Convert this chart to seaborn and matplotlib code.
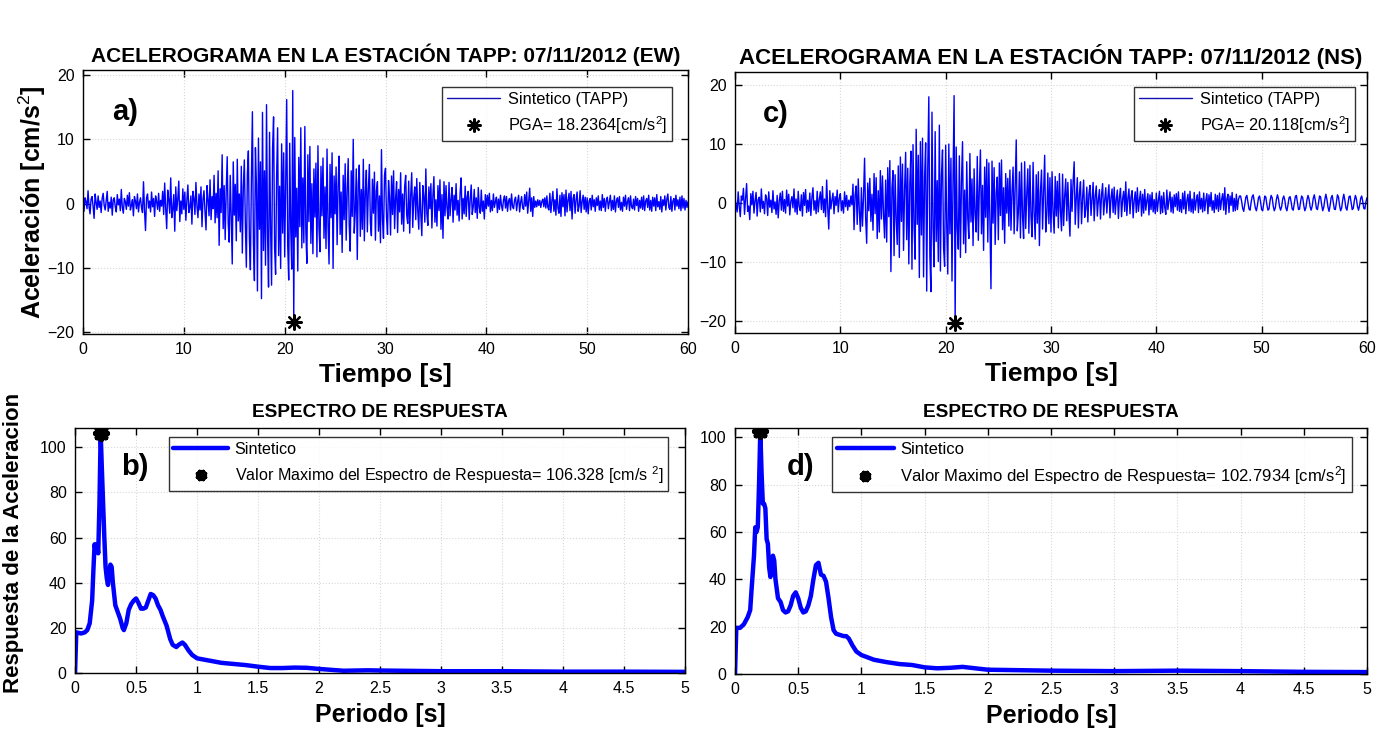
import numpy as np
import matplotlib
matplotlib.use('Agg')
import matplotlib.pyplot as plt
from matplotlib.lines import Line2D
import seaborn as sns

# %%
# Acelerogramas (muestreo cada 0.1 s, 0-60 s)
dt = 0.1

acc_ew = [
    0.6, -1.2, 0.9, 0.3, -0.8, 2.0, -0.5, -1.6, 0.7, 1.1, -0.4, -2.3, 1.5, 0.2, -0.9, 1.2, -0.6, 0.4, -1.4, 0.8,
    1.6, -0.3, -1.0, 0.5, 1.9, -1.2, 0.2, -0.7, 1.0, -1.8, 0.6, 0.9, -0.5, -1.3, 1.4, -0.2, 0.7, -1.1, 2.2, -0.6,
    -1.5, 0.8, 0.3, -0.9, 1.3, -0.4, 1.7, -1.0, -0.3, 0.6, -1.9, 1.1, 0.4, -0.8, 1.5, -1.3, 0.2, 0.9, -0.6, -1.4,
    3.4, -1.1, -4.2, 0.9, 1.5, -0.7, 0.4, -1.3, 1.8, -0.5, 0.8, -2.0, 1.2, 0.3, -0.9, 1.6, -1.2, 0.5, -0.4, 1.9,
    -1.7, 3.2, -0.8, -3.9, 2.1, 0.6, -1.5, 4.0, -2.2, -0.9, 1.4, -4.3, 2.6, -1.1, 0.7, 3.5, -2.8, 0.4, -1.6, 2.3,
    -0.9, 1.8, -2.6, 0.5, 2.9, -1.4, -0.6, 1.2, -3.2, 1.9, 0.8, -1.7, 3.3, -0.4, -2.2, 1.5, -1.0, 2.6, -3.6, 0.7,
    2.0, -1.3, -4.1, 2.8, 0.6, -1.9, 3.7, -2.5, 1.1, -0.8, 4.4, -3.0, 1.6, -2.2, 5.1, -6.5, 2.3, -1.4, 7.6, -3.9,
    2.8, -5.6, 1.9, 7.3, -3.1, -6.0, 4.4, -2.0, -9.4, 6.5, -1.8, 3.0, -5.8, 6.9, -2.7, 1.5, -4.4, 5.8, -7.7, 2.6,
    6.8, -3.2, -9.9, 4.6, 8.2, -5.5, -10.3, 3.9, 14.3, -6.1, -12.0, 8.7, 2.9, -13.6, 10.2, -4.0, 6.5, -14.8, 14.2, -7.3,
    5.1, -9.6, 15.4, -4.8, -13.0, 11.1, -3.5, -12.7, 8.6, 13.5, -6.9, -11.0, 4.2, 11.8, -8.1, 2.7, -10.1, 9.3, -4.6, 7.9,
    -8.3, 3.1, 16.2, -6.4, -11.9, 9.4, -3.8, -10.2, 17.6, -18.24, 10.3, -5.2, 2.4, -10.5, 7.2, -3.6, 11.8, -6.9, 4.0, -6.1,
    12.0, -4.4, -9.3, 7.6, -2.8, 8.9, -6.2, 3.1, -7.8, 5.4, -2.1, 6.3, -8.3, 9.0, -3.7, -7.5, 5.8, -1.9, 7.1, -5.4,
    2.6, -7.0, 8.5, -3.4, -9.4, 6.1, -2.2, 7.9, -10.1, 4.3, -1.6, 5.7, -6.4, 2.9, 7.4, -4.8, 1.8, -7.6, 4.4, -2.5,
    6.2, -5.7, 1.9, 7.0, -3.3, -7.4, 5.1, -2.0, 10.0, -4.6, -1.2, 5.4, -8.7, 3.1, 6.0, -5.1, 2.2, -4.0, 6.9, -5.8,
    1.7, 5.2, -4.4, 2.3, 6.1, -3.0, -5.0, 3.8, -1.5, 4.9, -5.7, 2.0, 3.4, -4.3, 1.2, -6.1, 8.4, -2.5, -5.4, 4.4,
    5.5, -2.1, -4.8, 3.6, 1.0, -4.9, 4.3, -1.7, 5.1, -3.9, 0.8, 3.4, -4.5, 2.2, -1.3, 4.8, -3.2, 1.5, -4.3, 2.7,
    4.4, -1.8, -3.1, 3.5, -4.6, 1.4, 4.8, -3.7, 0.9, 2.6, -2.5, 3.9, -1.2, -4.0, 3.3, -1.6, -5.0, 2.8, 1.1, -2.9,
    5.4, -1.5, -3.4, 2.6, -0.8, 3.1, -3.8, 1.2, 4.2, -2.9, 0.6, -3.5, 2.8, -1.1, 3.7, -4.0, 1.4, -5.4, 3.4, -1.9,
    2.8, -0.7, -2.4, 3.3, -1.9, 0.6, 2.5, -2.9, 1.3, -1.0, 3.1, -1.8, 0.5, -2.7, 1.7, 4.0, -2.4, 0.8, -1.6, 2.7,
    -2.0, 1.1, 1.9, -2.5, 0.7, 2.9, -1.7, -0.5, 2.2, -1.4, 0.9, -2.3, 2.5, -0.6, -1.5, 2.1, -1.2, 0.4, -2.4, 1.4,
    -0.8, 1.3, -0.4, 1.6, -1.3, 0.5, -1.1, 1.5, -0.6, 0.3, 1.0, -1.4, 0.7, -0.9, 1.3, -0.3, -1.1, 0.6, 1.2, -0.7,
    1.1, -1.2, 0.4, 0.8, -1.0, 1.5, -0.5, -0.8, 0.6, 1.0, -1.1, 0.3, 1.3, -1.3, 0.2, 1.1, -0.7, -0.9, 1.4, -0.4,
    1.8, -1.5, 0.5, 2.4, -1.2, 0.9, -2.0, 1.1, -0.6, 0.4, -0.5, 0.6, -0.3, 0.5, -0.6, 0.3, 0.7, -0.5, 0.9, -0.7,
    1.2, -0.6, -1.0, 1.6, -1.4, 0.4, 1.9, -1.2, 0.6, -1.8, 2.3, -0.7, -1.5, 1.3, -2.0, 1.7, -0.5, 1.4, -1.9, 2.1,
    -1.3, 0.5, 1.6, -1.1, 1.9, -2.4, 0.8, 1.4, -1.5, 0.6, 1.8, -1.2, -0.4, 2.0, -1.4, 0.3, 1.3, -0.9, 1.0, -1.3,
    0.9, -1.6, 0.4, 0.8, -1.0, 1.3, -0.5, 0.6, -1.2, 0.9, -0.3, 1.2, -1.0, 0.4, -1.1, 1.4, -0.6, 0.8, -1.2, 0.5,
    1.0, -0.8, 0.3, 1.3, -1.1, 0.5, -0.9, 1.2, -1.3, 0.4, 0.9, -0.6, 1.1, -1.0, 0.2, -1.2, 1.0, -0.4, 1.3, -0.9,
    0.3, 0.9, -1.1, 1.2, -0.5, -0.8, 0.7, -1.0, 1.1, -0.3, 0.8, -1.2, 0.5, -0.7, 1.0, -0.9, 1.2, -1.1, 0.4, 0.8,
    -0.6, 1.3, -1.0, 0.5, -1.2, 1.0, -0.4, 0.9, -1.1, 1.4, -0.5, 0.3, -0.9, 1.1, -1.3, 0.6, -0.3, 1.2, -1.0, 0.7,
    1.5, -0.6, -0.9, 1.1, -1.2, 0.4, 0.8, -1.0, 1.3, -0.4, 0.6, -0.8, 1.0, -1.1, 1.2, -0.7, 0.8, -1.0, 0.5, -0.6,
    0.3,
]

acc_ns = [
    0.8, -0.4, -1.5, 1.9, -0.6, -2.3, 1.2, 0.5, 2.5, -1.9, 0.7, 3.3, -1.4, -0.5, -2.8, 1.6, -0.3, 2.0, -1.7, 0.4,
    1.8, -2.2, 0.6, 1.0, -1.5, 2.4, -0.9, 0.3, -1.8, 1.4, 0.8, -2.1, 1.9, -0.7, 0.5, -1.6, 2.1, -1.0, 0.2, -1.9,
    1.3, -2.5, 0.4, 1.7, -1.2, 2.0, -1.4, 0.6, -1.7, 2.2, -0.5, 1.5, -2.0, 0.3, 1.1, -0.8, 2.4, -1.5, 0.7, -1.9,
    2.0, -0.6, -1.3, 1.4, -2.2, 1.8, -0.4, 2.3, -1.6, 0.5, -1.4, 1.7, -2.1, 0.9, 2.6, -1.2, 0.4, -1.8, 2.0, -1.5,
    0.6, 1.9, -1.1, 2.8, -1.6, 0.7, -2.3, 3.9, -0.8, -4.4, 2.1, -1.0, 0.5, 1.7, -1.8, 1.1, -0.4, 2.2, -1.5, 0.8,
    1.6, -1.3, 0.4, -1.7, 1.9, -0.6, 1.3, -1.2, 0.5, -0.6, 1.2, -0.3, 3.2, -4.5, 1.4, 2.9, -3.6, 4.1, -1.2, -4.8,
    2.6, -3.9, 1.1, 7.6, -2.4, -6.8, 3.4, -1.3, 4.2, -3.1, 1.5, -4.6, 5.0, -1.8, 4.3, -6.0, 2.1, -4.9, 5.5, -2.7,
    4.6, -1.9, -5.9, 3.9, -6.6, 6.0, -2.3, 7.2, -11.6, 2.5, 5.5, -8.9, 4.8, -2.6, -7.0, 6.3, -9.2, 7.8, -3.1, 6.6,
    -8.0, 2.4, 8.6, -6.2, 5.9, -10.3, 3.5, 8.8, -11.2, 9.9, -4.1, -9.5, 12.5, -3.6, 8.1, -12.6, 10.4, -5.4, 11.0, -12.5,
    4.4, 10.2, -14.9, 6.1, 18.0, -8.9, -15.0, 15.4, -4.2, -10.8, 12.1, -6.5, 3.8, -9.9, 13.2, -11.5, 4.6, 9.0, -7.6, -10.7,
    9.8, -3.9, -12.0, 10.0, -5.2, 7.6, -13.2, 4.1, 18.2, -20.12, 9.5, -4.3, -7.8, 8.0, -9.2, 3.6, 10.4, -6.9, 2.2, -8.4,
    7.0, -2.6, -6.0, 8.4, -3.2, 4.1, -7.2, 5.8, -1.9, -4.9, 7.9, -6.3, 2.7, 9.0, -5.2, 3.0, -8.0, 6.1, -2.4, 7.4,
    -6.6, 6.8, -2.9, -14.5, 7.1, -3.4, 6.0, -7.0, 1.8, 4.4, -6.2, 6.8, -2.1, 7.3, -4.5, 2.6, -6.8, 5.0, -1.7, 4.2,
    -3.9, 5.6, -4.6, 1.9, 6.1, -5.2, 2.4, 10.7, -4.7, -1.6, 5.3, -5.9, 6.8, -2.3, -6.0, 7.0, -4.3, 1.5, 5.8, -5.1,
    6.4, -2.2, -5.7, 6.9, -1.8, -6.1, 4.8, -3.4, 5.3, -7.2, 1.9, 5.6, -4.4, 2.1, 8.1, -4.9, -2.0, 5.1, -3.5, 4.3,
    -4.9, 5.3, -1.6, -5.1, 4.5, -2.2, 3.7, -4.2, 5.0, -1.4, -4.7, 4.9, -3.8, 1.2, 4.1, -3.0, 3.5, -1.7, -5.6, 4.0,
    -1.4, 3.6, 7.0, -3.6, 0.9, 4.3, -4.2, 1.6, 3.6, -3.5, 0.8, 3.9, -2.4, -1.0, 2.7, -3.2, 1.5, 3.0, -2.1, 0.7,
    3.5, -3.0, 1.2, 2.9, -2.2, 0.6, 2.3, -2.7, 1.4, 3.3, -2.0, 0.5, 2.6, -1.7, 1.0, 3.1, -2.5, 0.9, 2.4, -1.6,
    2.7, -1.9, 0.6, 2.2, -2.6, 1.0, 2.5, -2.3, 0.7, 2.0, -1.4, 3.6, -2.1, 0.8, 2.4, -1.8, 1.1, 2.1, -2.5, 0.5,
    1.9, -1.6, 2.6, -1.4, 0.6, 2.0, -2.2, 1.5, -1.7, 2.3, -1.2, 0.4, 1.6, -2.0, 1.4, -1.1, 1.8, -1.5, 0.6, -1.8,
    1.7, -1.4, 0.5, 2.0, -1.8, 1.2, -1.6, 1.8, -0.7, -1.9, 2.2, -1.1, 0.5, 1.9, -1.5, 1.0, -1.7, 1.4, -0.6, 1.6,
    -1.2, 1.9, -1.4, 0.6, -1.6, 1.7, -1.0, 2.0, -1.8, 0.4, 1.5, -1.3, 2.0, -1.5, 0.7, -1.7, 1.8, -1.2, 0.5, 1.4,
    -1.6, 1.9, -1.0, 0.8, -1.5, 1.7, -1.3, 0.5, 1.6, -1.8, 1.4, -0.6, 1.8, -1.2, 0.4, -1.6, 1.5, -1.0, 1.3, -1.4,
    1.7, -1.1, 0.6, 1.6, -1.2, 2.6, -1.9, 0.7, 1.5, -1.6, 1.2, -0.4, 1.8, -1.4, 0.8, -1.3, 1.5, -1.1, 0.6, 1.2,
    1.2, 0.3, -0.9, -1.4, -0.2, 1.0, 1.3, 0.2, -1.0, -1.2, 0.1, 1.1, 1.4, 0.3, -0.8, -1.3, -0.4, 0.9, 1.2, 0.2,
    -1.1, -1.3, 0.0, 1.2, 1.0, -0.3, -1.2, -1.0, 0.4, 1.3, 0.9, -0.5, -1.3, -0.8, 0.6, 1.4, 0.7, -0.6, -1.2, -0.6,
    0.7, 1.2, 0.5, -0.8, -1.3, -0.3, 0.9, 1.1, 0.2, -1.0, -1.2, 0.0, 1.1, 1.3, 0.1, -1.1, -1.0, 0.3, 1.2, 0.9,
    -0.4, -1.3, -0.8, 0.5, 1.3, 0.7, -0.6, -1.2, -0.5, 0.8, 1.4, 0.4, -0.9, -1.1, 0.1, 1.2, 1.0, -0.3, -1.3, -0.7,
    0.6, 1.5, 0.6, -0.7, -1.4, -0.4, 0.9, 1.3, 0.2, -1.0, -1.1, 0.2, 1.4, 1.0, -0.4, -1.3, -0.8, 0.6, 1.5, 0.5,
    -0.8, -1.2, -0.1, 1.1, 1.2, 0.0, -1.1, -0.9, 0.4, 1.3, 0.7, -0.6, -1.2, -0.4, 0.8, 1.2, 0.3, -0.9, -1.0, 0.2,
    0.9,
]

# %%
# Espectros de respuesta
per_ew = [0, 0.01, 0.05, 0.08, 0.1, 0.12, 0.14, 0.15, 0.16, 0.17, 0.18, 0.19, 0.2, 0.21, 0.22, 0.23,
          0.24, 0.25, 0.26, 0.27, 0.28, 0.29, 0.3, 0.31, 0.33, 0.35, 0.37, 0.39, 0.4, 0.42, 0.44, 0.46,
          0.48, 0.5, 0.52, 0.54, 0.56, 0.58, 0.6, 0.62, 0.64, 0.66, 0.68, 0.7, 0.72, 0.75, 0.78, 0.8,
          0.83, 0.85, 0.88, 0.9, 0.93, 0.96, 1.0, 1.1, 1.2, 1.3, 1.4, 1.5, 1.6, 1.7, 1.8, 1.9,
          2.0, 2.1, 2.2, 2.4, 2.5, 3.0, 3.5, 4.0, 4.5, 5.0]
sa_ew = [0, 18, 17.5, 18, 19, 22, 32, 45, 57, 54, 57, 53, 75, 106.328, 90, 75,
         60, 47, 42, 39, 45, 48, 47, 40, 30, 27, 24, 20, 19, 22, 28, 30.5,
         32, 33, 31, 28.5, 28.5, 29, 32, 35, 34.5, 33, 30, 28, 25, 21, 15, 12.5,
         11.5, 12.5, 13.5, 12.5, 10, 8, 6.5, 5.5, 4.5, 4, 3.5, 2.8, 2.2, 2.2, 2.4, 2.3,
         1.8, 1.4, 1.0, 1.2, 1.1, 0.8, 0.8, 0.6, 0.6, 0.5]

per_ns = [0, 0.01, 0.04, 0.07, 0.1, 0.12, 0.13, 0.15, 0.16, 0.17, 0.18, 0.19, 0.2, 0.21, 0.22, 0.23,
          0.24, 0.25, 0.26, 0.27, 0.28, 0.29, 0.3, 0.31, 0.32, 0.34, 0.36, 0.38, 0.4, 0.42, 0.44, 0.46,
          0.48, 0.5, 0.52, 0.54, 0.56, 0.58, 0.6, 0.62, 0.64, 0.66, 0.68, 0.7, 0.72, 0.74, 0.76, 0.78,
          0.8, 0.83, 0.86, 0.88, 0.9, 0.93, 0.96, 1.0, 1.1, 1.2, 1.3, 1.4, 1.5, 1.6, 1.7, 1.8,
          1.9, 2.0, 2.5, 3.0, 3.5, 4.0, 4.5, 5.0]
sa_ns = [0, 19.5, 19.5, 21, 24, 27, 35, 50, 62, 60, 62, 80, 102.7934, 85, 72, 72,
         70, 57, 55, 45, 41, 47, 50, 48, 40, 32, 30.5, 27, 26, 26.5, 29, 33,
         34.5, 32, 28, 26, 26.5, 29, 33, 40, 46, 47, 42, 41.5, 39, 32, 24, 18.5,
         17, 16.5, 16, 16, 15, 12, 9.5, 8, 6, 5, 4.2, 3.8, 2.8, 2.4, 2.6, 3.0,
         2.4, 1.8, 1.4, 1.2, 1.4, 1.2, 0.9, 0.8]

titles_acc = ['ACELEROGRAMA EN LA ESTACIÓN TAPP: 07/11/2012 (EW)',
              'ACELEROGRAMA EN LA ESTACIÓN TAPP: 07/11/2012 (NS)']
title_sa = 'ESPECTRO DE RESPUESTA'
pga_labels = ['PGA= 18.2364[cm/s$^{2}$]', 'PGA= 20.118[cm/s$^{2}$]']
sa_labels = ['Valor Maximo del Espectro de Respuesta= 106.328 [cm/s $^{2}$]',
             'Valor Maximo del Espectro de Respuesta= 102.7934 [cm/s$^{2}$]']
per_ticks = [0, 0.5, 1, 1.5, 2, 2.5, 3, 3.5, 4, 4.5, 5]
per_ticklabels = ['0', '0.5', '1', '1.5', '2', '2.5', '3', '3.5', '4', '4.5', '5']

# %%
sns.set_style('ticks')
plt.rcParams['font.family'] = ['Liberation Sans', 'DejaVu Sans']
plt.rcParams['mathtext.fontset'] = 'custom'
plt.rcParams['mathtext.rm'] = 'Liberation Sans'
plt.rcParams['mathtext.it'] = 'Liberation Sans'
for key in ['text.color', 'axes.labelcolor', 'xtick.color', 'ytick.color', 'axes.edgecolor']:
    plt.rcParams[key] = 'black'

ast = (8, 2, 0)  # asterisco estilo MATLAB

t = np.round(np.arange(len(acc_ew)) * dt, 2)

fig = plt.figure(figsize=(13.95, 7.43), dpi=100)
fig.patch.set_facecolor('white')
ax_a = fig.add_axes([0.0595, 0.5505, 0.4337, 0.3553])
ax_c = fig.add_axes([0.5269, 0.5518, 0.4530, 0.3513])
ax_b = fig.add_axes([0.0538, 0.0942, 0.4373, 0.3298])
ax_d = fig.add_axes([0.5269, 0.0929, 0.4530, 0.3311])


def style_axes(ax):
    ax.tick_params(direction='in', top=True, right=True, length=5, width=1,
                   labelsize=11.5, colors='black', pad=6)
    for sp in ax.spines.values():
        sp.set_linewidth(1.0)
        sp.set_color('black')
    ax.grid(True, color='#d8d8d8', linestyle=':', linewidth=0.8)
    ax.set_axisbelow(True)


# Acelerogramas
acc_panels = [(ax_a, acc_ew, 'a)', (-20.3, 20.8), 0.974, 0.936, 0.069, 15),
              (ax_c, acc_ns, 'c)', (-22.0, 22.2), 0.981, 0.943, 0.065, 16)]
for i, (ax, acc, tag, ylim, lx, ly, tx, tsize) in enumerate(acc_panels):
    acc = np.array(acc)
    sns.lineplot(x=t, y=acc, ax=ax, color='blue', linewidth=1.0,
                 estimator=None, sort=False, legend=False)
    k = int(np.argmax(np.abs(acc)))
    sns.scatterplot(x=[t[k]], y=[acc[k] - 0.15], ax=ax, marker=ast, s=110,
                    color='black', linewidth=1.6, zorder=5, legend=False)
    ax.set_xlim(0, 60)
    ax.set_ylim(*ylim)
    ax.set_xticks(range(0, 61, 10))
    ax.set_yticks([-20, -10, 0, 10, 20])
    style_axes(ax)
    ax.set_title(titles_acc[i], fontsize=tsize, fontweight='bold', pad=6)
    ax.set_xlabel('Tiempo [s]', fontsize=19, fontweight='bold', labelpad=4)
    ax.set_ylabel('')
    ax.text(tx, 0.84, tag, transform=ax.transAxes, fontsize=21,
            fontweight='bold', ha='center', va='center')
    handles = [Line2D([], [], color='#1010b0', lw=1.0),
               Line2D([], [], color='black', marker=ast, markersize=10,
                      markeredgewidth=1.6, linestyle='none')]
    leg = ax.legend(handles, ['Sintetico (TAPP)', pga_labels[i]],
                    loc='upper right', bbox_to_anchor=(lx, ly), fontsize=11.8,
                    frameon=True, fancybox=False, handlelength=3.2,
                    handletextpad=0.5, borderpad=0.3, labelspacing=0.45,
                    borderaxespad=0)
    leg.get_frame().set_edgecolor('black')
    leg.get_frame().set_linewidth(1.0)

fig.text(0.023, 0.728, 'Aceleración [cm/s$^{2}$]', rotation=90, fontsize=18,
         fontweight='bold', ha='center', va='center')

# Espectros
sa_panels = [(ax_b, per_ew, sa_ew, 'b)', 108.5, 0.972, 0.963, 0.098, 11.6),
             (ax_d, per_ns, sa_ns, 'd)', 104.0, 0.976, 0.963, 0.103, 12.0)]
for i, (ax, per, sa, tag, ytop, lx, ly, tx, lsize) in enumerate(sa_panels):
    per = np.array(per)
    sa = np.array(sa)
    sns.lineplot(x=per, y=sa, ax=ax, color='blue', linewidth=3.2,
                 estimator=None, sort=False, legend=False)
    k = int(np.argmax(sa))
    sns.scatterplot(x=[per[k]], y=[sa[k]], ax=ax, marker=ast, s=70,
                    color='black', linewidth=4, zorder=5, legend=False)
    ax.set_xlim(0, 5)
    ax.set_ylim(0, ytop)
    ax.set_xticks(per_ticks)
    ax.set_xticklabels(per_ticklabels)
    ax.set_yticks(range(0, 101, 20))
    style_axes(ax)
    ax.set_title(title_sa, fontsize=13.7, fontweight='bold', pad=8)
    ax.set_xlabel('Periodo [s]', fontsize=18, fontweight='bold', labelpad=5)
    ax.set_ylabel('')
    ax.text(tx, 0.84, tag, transform=ax.transAxes, fontsize=21,
            fontweight='bold', ha='center', va='center')
    handles = [Line2D([], [], color='blue', lw=3.2),
               Line2D([], [], color='black', marker=ast, markersize=8,
                      markeredgewidth=4, linestyle='none')]
    leg = ax.legend(handles, ['Sintetico', sa_labels[i]],
                    loc='upper right', bbox_to_anchor=(lx, ly), fontsize=lsize,
                    frameon=True, fancybox=False, handlelength=3.4,
                    handletextpad=0.4, borderpad=0.3, labelspacing=0.45,
                    borderaxespad=0)
    leg.get_frame().set_edgecolor('black')
    leg.get_frame().set_linewidth(1.0)

fig.text(0.010, 0.269, 'Respuesta de la Aceleracion', rotation=90, fontsize=16,
         fontweight='bold', ha='center', va='center')

fig.savefig('out.png', dpi=100, facecolor='white')
